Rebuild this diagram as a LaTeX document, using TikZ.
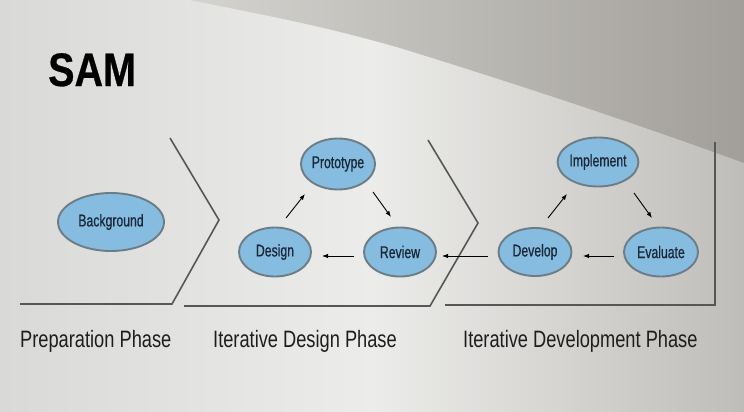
\documentclass[tikz,border=0pt]{standalone}
\usepackage{fontspec}
\setmainfont{Liberation Sans}
\newfontfamily\samfont[FakeStretch=0.84,FakeBold=0.6]{Liberation Sans Bold}
\newfontfamily\condfont[FakeStretch=0.72,FakeBold=0.7]{Liberation Sans}
\newfontfamily\phasefont[FakeStretch=0.77]{Liberation Sans}
\usetikzlibrary{shapes.geometric,arrows.meta}
\definecolor{bgleft}{HTML}{D9D9D7}
\definecolor{bgmid}{HTML}{ECECEA}
\definecolor{bgright}{HTML}{BFBDB9}
\definecolor{topleft}{HTML}{D4D3CF}
\definecolor{topright}{HTML}{A29F9A}
\definecolor{ellfill}{HTML}{86BCDF}
\definecolor{ellline}{HTML}{6C7D86}
\definecolor{elltext}{HTML}{1A2838}
\definecolor{phaseline}{HTML}{575757}
\definecolor{labeltext}{HTML}{1E1E1E}
\tikzset{
  ell/.style={ellipse, draw=ellline, line width=1.9pt, fill=ellfill,
    inner sep=0pt, outer sep=0pt, text=elltext,
    font=\condfont\fontsize{17}{18}\selectfont},
  phaseedge/.style={draw=phaseline, line width=1.6pt, line join=miter},
  flow/.style={draw=black, line width=0.9pt,
    -{Latex[length=6pt,width=4.5pt]}},
  phaselabel/.style={anchor=base west, inner sep=0pt, text=labeltext,
    font=\phasefont\fontsize{23.7}{26}\selectfont},
}
\begin{document}
\begin{tikzpicture}[x=1pt,y=-1pt]
\useasboundingbox (0,0) rectangle (744,412);
% background
\shade[left color=bgleft, right color=bgright, middle color=bgmid] (0,0) rectangle (744,412);
\shade[left color=topleft, right color=topright]
  (190,0) .. controls (290,20) and (330,28) .. (400,48)
  .. controls (520,85) and (640,125) .. (744,163) -- (744,0) -- cycle;

% title
\node[anchor=north west, inner sep=0pt, text=black,
  font=\samfont\fontsize{47}{48}\selectfont] (title) at (48,53) {SAM};

% phase outlines
\draw[phaseedge] (170,138) -- (219,220) -- (172,304) -- (20,304);
\draw[phaseedge] (428,140) -- (478,223) -- (430,306) -- (184,306);
\draw[phaseedge] (445,305) -- (715,305) -- (715,142);

% nodes
\node[ell, minimum width=106pt, minimum height=58pt] (background) at (111,222) {Background};
\node[ell, minimum width=73pt, minimum height=51pt] (prototype) at (338,164) {Prototype};
\node[ell, minimum width=72pt, minimum height=49pt] (design) at (275,252) {Design};
\node[ell, minimum width=72pt, minimum height=49pt] (review) at (400,252) {Review};
\node[ell, minimum width=73pt, minimum height=49pt] (implement) at (598,162) {Implement};
\node[ell, minimum width=73pt, minimum height=48pt] (develop) at (535,252) {Develop};
\node[ell, minimum width=74pt, minimum height=49pt] (evaluate) at (661,252) {Evaluate};

% connectors
\draw[flow] ([shift={(11,-9.5)}]design.north) -- ([shift={(-33,4.5)}]prototype.south);
\draw[flow] ([shift={(35,2.5)}]prototype.south) -- ([shift={(-9,-10.5)}]review.north);
\draw[flow] ([shift={(-10,4)}]review.west) -- ([shift={(11,4)}]design.east);
\draw[flow] ([shift={(-10.5,4)}]develop.west) -- ([shift={(6,4)}]review.east);
\draw[flow] ([shift={(13,-10)}]develop.north) -- ([shift={(-31,7.5)}]implement.south);
\draw[flow] ([shift={(36,6.5)}]implement.south) -- ([shift={(-9,-9.5)}]evaluate.north);
\draw[flow] ([shift={(-10,4)}]evaluate.west) -- ([shift={(11.5,4)}]develop.east);

% phase labels
\node[phaselabel] (prep) at (20,347) {Preparation Phase};
\node[phaselabel] (idp) at (213,347) {Iterative Design Phase};
\node[phaselabel] (idev) at (463,347) {Iterative Development Phase};
\end{tikzpicture}
\end{document}
